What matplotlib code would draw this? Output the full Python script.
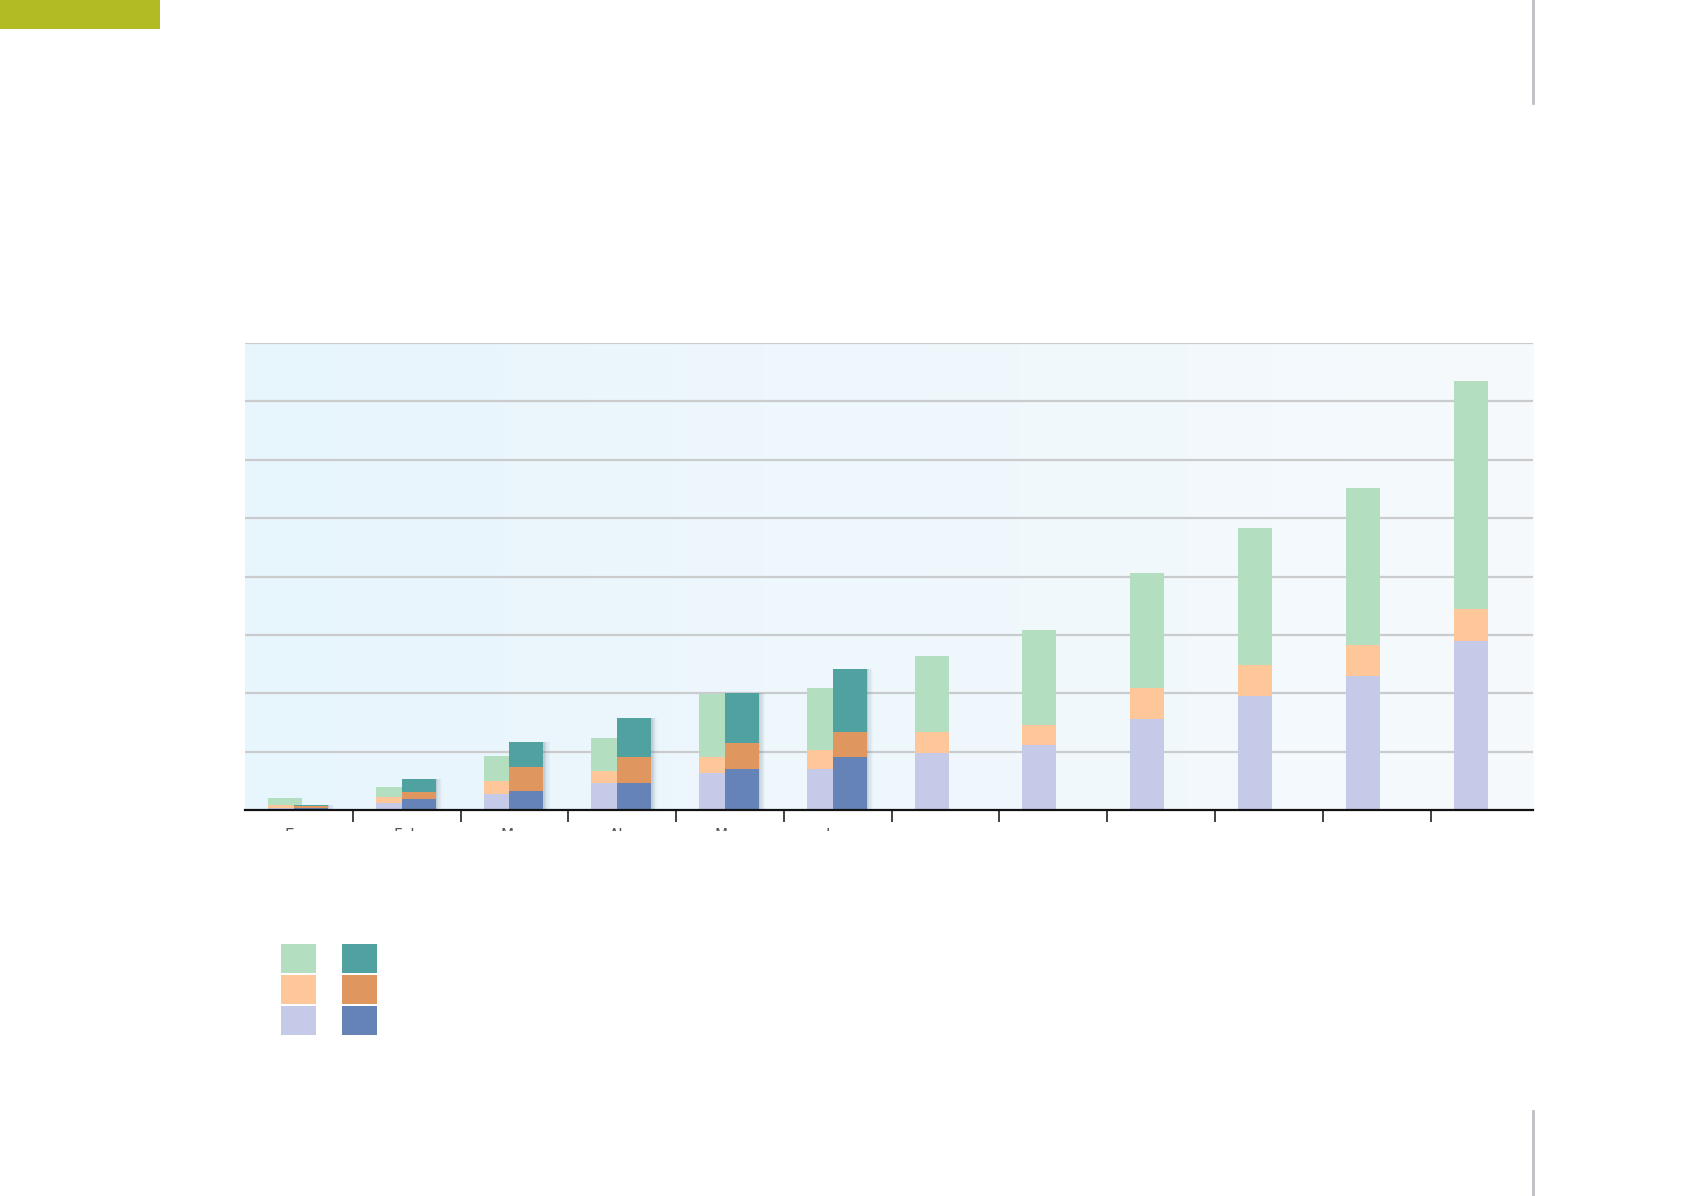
import numpy as np
import matplotlib
matplotlib.use("Agg")
import matplotlib.pyplot as plt
from matplotlib.patches import Rectangle
from matplotlib.transforms import Bbox, TransformedBbox, blended_transform_factory

# ---- data (grid units) ----
months = ["Ene", "Feb", "Mar", "Abr", "May", "Jun"]
n_categories = 12
# previous period (light bars), 12 categories
prev_base = [0.04, 0.12, 0.28, 0.47, 0.63, 0.71, 0.98, 1.11, 1.56, 1.96, 2.30, 2.89]
prev_mid = [0.05, 0.10, 0.22, 0.20, 0.28, 0.31, 0.35, 0.35, 0.53, 0.52, 0.53, 0.55]
prev_top = [0.12, 0.18, 0.42, 0.57, 1.07, 1.07, 1.31, 1.63, 1.97, 2.35, 2.69, 3.91]
# current period (dark bars), first 6 categories
cur_base = [0.04, 0.18, 0.32, 0.47, 0.71, 0.90]
cur_mid = [0.02, 0.13, 0.42, 0.43, 0.43, 0.43]
cur_top = [0.02, 0.22, 0.43, 0.67, 0.87, 1.08]
y_max = 8

# ---- colours ----
c_lav, c_peach, c_green = "#c5cae8", "#fdc79a", "#b3dec0"
c_blue, c_orange, c_teal = "#6683b8", "#e0975f", "#4fa29f"

W, H = 1692, 1196
fig = plt.figure(figsize=(W / 100, H / 100), dpi=100)
fig.patch.set_facecolor("white")

ax_l, ax_r, ax_t, ax_b = 245, 1533, 343, 810
ax = fig.add_axes([ax_l / W, 1 - ax_b / H, (ax_r - ax_l) / W, (ax_b - ax_t) / H])
xmax = 11.95
ax.set_xlim(0, xmax)
ax.set_ylim(0, y_max)

# background gradient
grad = np.linspace(0, 1, 256)[None, :]
c0 = np.array([0xe7, 0xf5, 0xfc]) / 255
c1 = np.array([0xf6, 0xfa, 0xfd]) / 255
img = c0[None, None, :] * (1 - grad[..., None]) + c1[None, None, :] * grad[..., None]
ax.imshow(img, extent=[0, xmax, 0, y_max], aspect="auto", zorder=0)

# gridlines
for y in range(1, y_max + 1):
    ax.axhline(y, color="#c9cbcd", lw=1.6, zorder=1)

w = 0.315
off_light = 0.213
off_dark = 0.454
x = np.arange(n_categories)

bl = np.array(prev_base)
bm = np.array(prev_mid)
bt = np.array(prev_top)
ax.bar(x + off_light, bl, width=w, align="edge", color=c_lav, zorder=2)
ax.bar(x + off_light, bm, width=w, bottom=bl, align="edge", color=c_peach, zorder=2)
ax.bar(x + off_light, bt, width=w, bottom=bl + bm, align="edge", color=c_green, zorder=2)

xd = np.arange(len(cur_base))
cb = np.array(cur_base)
cm = np.array(cur_mid)
ct = np.array(cur_top)
tot = cb + cm + ct
# soft shadow to the right of the dark bars
for k, a in enumerate([0.10, 0.08, 0.06, 0.04, 0.03]):
    d = 0.012 * (k + 1)
    ax.bar(xd + off_dark + d, tot, width=w, align="edge", color="#5a6f80",
           alpha=a, lw=0, zorder=2.4)
ax.bar(xd + off_dark, cb, width=w, align="edge", color=c_blue, zorder=3)
ax.bar(xd + off_dark, cm, width=w, bottom=cb, align="edge", color=c_orange, zorder=3)
ax.bar(xd + off_dark, ct, width=w, bottom=cb + cm, align="edge", color=c_teal, zorder=3)

for s in ["top", "left", "right"]:
    ax.spines[s].set_visible(False)
ax.spines["bottom"].set_color("#111111")
ax.spines["bottom"].set_linewidth(1.6)
ax.spines["bottom"].set_zorder(5)
ax.set_yticks([])
ax.set_xticks(np.arange(1, n_categories))
ax.set_xticklabels([])
ax.tick_params(axis="x", direction="out", length=8.6, width=1.3, color="#333333")

# month labels (only their top strip shows, as in the reference)
clip = TransformedBbox(Bbox([[0, 1 - 831 / H], [1, 1 - 827 / H]]), fig.transFigure)
tr = blended_transform_factory(ax.transData, fig.transFigure)
for i, m in enumerate(months):
    t = ax.text(i + 0.5, 1 - 828 / H, m, transform=tr,
                ha="center", va="top", fontsize=11, color="#555555")
    t.set_clip_box(clip)
    t.set_clip_on(True)

# top-left green tab
fig.add_artist(Rectangle((0, 1 - 29 / H), 160 / W, 29 / H, transform=fig.transFigure,
                         color="#b3bb24", lw=0))
# right vertical rules
fig.add_artist(plt.Line2D([1533 / W, 1533 / W], [1, 1 - 103 / H], transform=fig.transFigure,
                          color="#c0c0c4", lw=2))
fig.add_artist(plt.Line2D([1533 / W, 1533 / W], [1 - 1111 / H, 0], transform=fig.transFigure,
                          color="#c0c0c4", lw=2))

# legend swatches
rows = [(944, c_green, c_teal), (975, c_peach, c_orange), (1006, c_lav, c_blue)]
for ytop, cl, cd in rows:
    for xl, col in [(281, cl), (342, cd)]:
        fig.add_artist(Rectangle((xl / W, 1 - (ytop + 28.5) / H), 34.5 / W, 28.5 / H,
                                 transform=fig.transFigure, color=col, lw=0))

fig.savefig("out.png", dpi=100)
